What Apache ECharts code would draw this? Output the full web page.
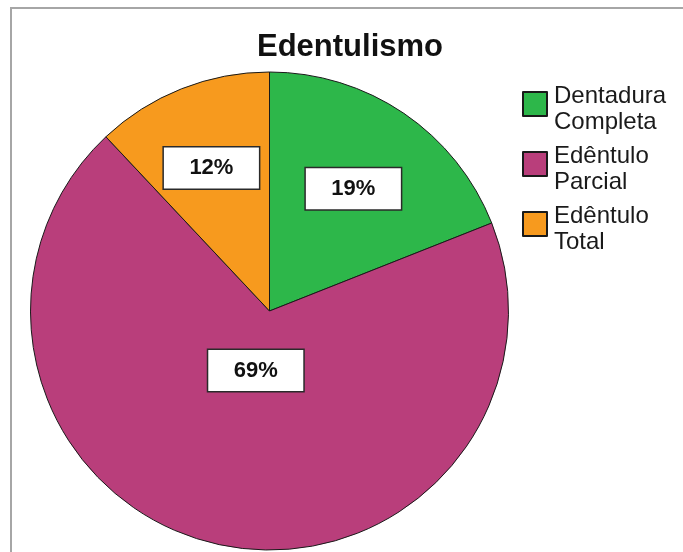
<!DOCTYPE html>
<html>
<head>
<meta charset="utf-8">
<script src="https://cdn.jsdelivr.net/npm/echarts@6/dist/echarts.min.js"></script>
<style>
  html, body { margin: 0; padding: 0; background: #fff; }
  #chart { width: 683px; height: 552px; }
</style>
</head>
<body>
<div id="chart"></div>
<script>
const chartTitle = 'Edentulismo';
const categories = ['Dentadura\nCompleta', 'Edêntulo\nParcial', 'Edêntulo\nTotal'];
const values = [19, 69, 12];
const colors = ['#2DB74A', '#B93E7B', '#F79A1E'];
const labelOffsets = [[15, -21], [13, -60], [-13, -29]];

const chart = echarts.init(document.getElementById('chart'), null, { renderer: 'canvas' });

const data = categories.map((name, i) => ({
  name: name,
  value: values[i],
  itemStyle: { color: colors[i] },
  label: { offset: labelOffsets[i] }
}));

chart.setOption({
  animation: false,
  backgroundColor: '#ffffff',
  graphic: [{
    type: 'rect',
    silent: true,
    shape: { x: 11, y: 8, width: 720, height: 600 },
    style: { fill: 'none', stroke: '#a6a6a6', lineWidth: 2 }
  }],
  title: {
    text: chartTitle,
    left: 257,
    top: 32,
    padding: 0,
    textStyle: {
      fontFamily: 'Liberation Sans, Arial, sans-serif',
      fontSize: 31,
      fontWeight: 'bold',
      color: '#111'
    }
  },
  legend: {
    orient: 'vertical',
    left: 522,
    top: 83,
    padding: 0,
    itemWidth: 24,
    itemHeight: 34,
    itemGap: 8,
    // square swatch sitting in the upper part of the icon box (aligned with first text line)
    icon: 'path://M0,0L24,0L24,24L0,24Z M0,34',
    textStyle: {
      fontFamily: 'Liberation Sans, Arial, sans-serif',
      fontSize: 24,
      lineHeight: 26,
      color: '#1a1a1a',
      padding: [0, 0, 0, 2]
    },
    data: categories
  },
  series: [{
    type: 'pie',
    center: [269.5, 311],
    radius: 239,
    startAngle: 90,
    clockwise: true,
    avoidLabelOverlap: false,
    data: data,
    itemStyle: { borderColor: '#1a1a1a', borderWidth: 1 },
    label: {
      show: true,
      position: 'inside',
      formatter: '{d}%',
      fontFamily: 'Liberation Sans, Arial, sans-serif',
      fontSize: 22,
      fontWeight: 'bold',
      color: '#111',
      backgroundColor: '#ffffff',
      borderColor: '#2a2a2a',
      borderWidth: 1.5,
      width: 95,
      height: 41,
      lineHeight: 41,
      align: 'center',
      verticalAlign: 'middle'
    },
    labelLine: { show: false },
    emphasis: { disabled: true }
  }]
});
</script>
</body>
</html>
